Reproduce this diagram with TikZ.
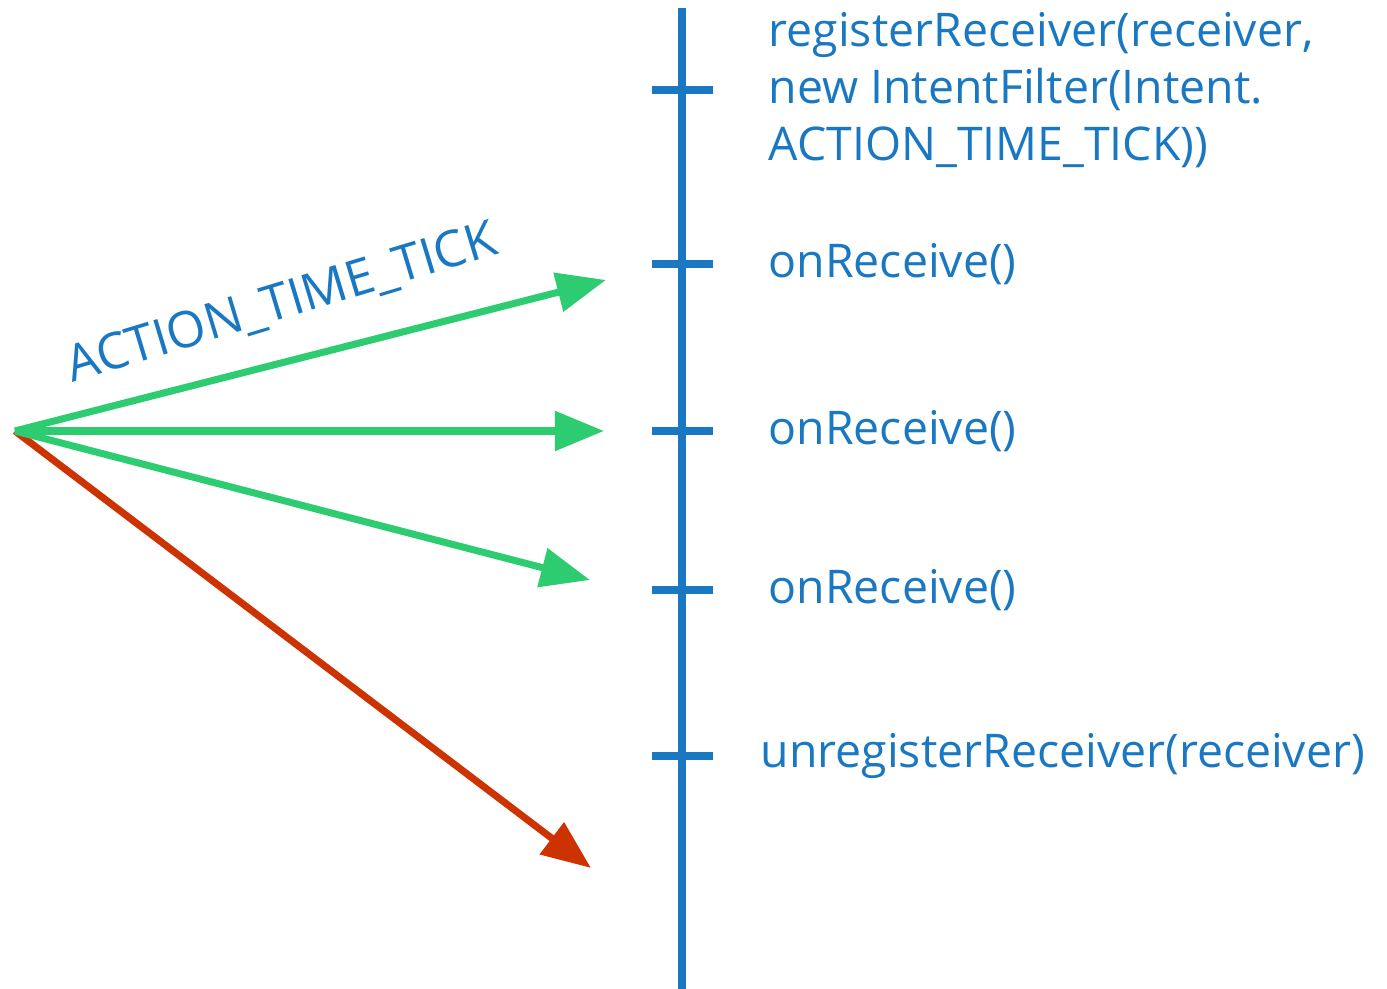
\documentclass[tikz,border=0pt]{standalone}
\usepackage{fontspec}
\setmainfont{Open Sans}
\usetikzlibrary{arrows.meta}
\definecolor{lblue}{HTML}{1A78C2}
\definecolor{lgreen}{HTML}{2ECC71}
\definecolor{lred}{HTML}{CC3300}
\tikzset{
  px/.style={x=0.01cm,y=-0.01cm},
  timeline/.style={draw=lblue,line width=2pt},
  tickmark/.style={draw=lblue,line width=2pt},
  label/.style={text=lblue,font=\fontsize{13.2pt}{16.2pt}\selectfont,anchor=west,inner sep=0pt,align=left},
  broadcast/.style={draw=lgreen,line width=2pt,-{Triangle[length=14pt,width=11pt]}},
  stopped/.style={draw=lred,line width=2pt,-{Triangle[length=14pt,width=11pt]}},
}
\begin{document}
\begin{tikzpicture}[px]
\useasboundingbox (0,0) rectangle (1387,989);
\coordinate (top) at (682,8);
\coordinate (bot) at (682,989);
\draw[timeline] (top) -- (bot);
\foreach \n/\y in {t1/90,t2/264,t3/431,t4/590,t5/756}{
  \coordinate (\n) at (682,\y);
  \draw[tickmark] ([shift={(-30,0)}]\n) -- ([shift={(31,0)}]\n);
}
\node[label] (reg) at (768,90) {registerReceiver(receiver,\\new IntentFilter(Intent.\\ACTION\_TIME\_TICK))};
\node[label] (r1) at (768,264) {onReceive()};
\node[label] (r2) at (768,431) {onReceive()};
\node[label] (r3) at (768,590) {onReceive()};
\node[label] (unreg) at (760,756) {unregisterReceiver(receiver)};
\coordinate (src) at (15,431);
\coordinate (a1) at (606,280);
\coordinate (a2) at (604,431);
\coordinate (a3) at (590,580);
\coordinate (a4) at (591,868);
\draw[stopped] (src) -- (a4);
\draw[broadcast] (src) -- (a1);
\draw[broadcast] (src) -- (a2);
\draw[broadcast] (src) -- (a3);
\node[text=lblue,font=\fontsize{14.3pt}{16pt}\selectfont,rotate=16.8,inner sep=0pt] (act) at (282,304) {ACTION\_TIME\_TICK};
\end{tikzpicture}
\end{document}
